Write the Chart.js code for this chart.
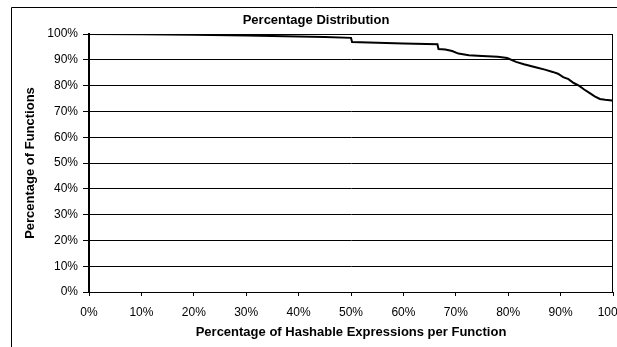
<!DOCTYPE html>
<html>
<head>
<meta charset="utf-8">
<script src="https://cdn.jsdelivr.net/npm/chart.js@4"></script>
<style>
  html, body { margin: 0; padding: 0; background: #fff; }
  #wrap { width: 617px; height: 347px; }
</style>
</head>
<body>
<div id="wrap"><canvas id="c" width="617" height="347"></canvas></div>
<script>
// cumulative share of functions vs share of hashable expressions
const xPct = [0, 10, 20, 30, 40, 45, 50, 50.2, 55, 60, 66.5, 66.7, 68, 69.3, 70.5, 72.5, 75, 78, 79.8,
  81.5, 83, 85.4, 87, 88.5, 89.5, 90.5, 91.5, 92.5, 93.5, 94.5, 95.5, 96.5, 97.5, 98.5, 99.8, 100, 100];
const yPct = [100, 99.9, 99.7, 99.4, 99.0, 98.8, 98.5, 96.9, 96.6, 96.3, 96.0, 94.2, 94.0, 93.4, 92.4, 91.8, 91.5, 91.2, 90.7,
  89.2, 88.3, 87.0, 86.2, 85.3, 84.6, 83.3, 82.5, 81.0, 80.0, 78.5, 77.2, 75.8, 74.8, 74.5, 74.2, 74.0, 0];
const tickLabels = ['0%', '10%', '20%', '30%', '40%', '50%', '60%', '70%', '80%', '90%', '100%'];

const FONT = 'Liberation Sans, Arial, sans-serif';
const tickFont = { family: FONT, size: 12 };
const boldFont = { family: FONT, size: 13, weight: 'bold' };

// outer chart frame + plot-area box, Excel style
const frame = {
  id: 'frame',
  beforeDraw(chart) {
    const { ctx } = chart;
    ctx.save();
    ctx.strokeStyle = '#000';
    ctx.lineWidth = 1;
    ctx.beginPath();
    ctx.moveTo(11.5, 347);
    ctx.lineTo(11.5, 7.5);
    ctx.lineTo(617, 7.5);
    ctx.stroke();
    ctx.restore();
  },
  afterDatasetsDraw(chart) {
    const { ctx, chartArea: a } = chart;
    ctx.save();
    ctx.strokeStyle = '#000';
    ctx.lineWidth = 1;
    ctx.beginPath();
    ctx.moveTo(a.left, Math.round(a.top) + 0.5);
    ctx.lineTo(Math.round(a.right) - 0.5, Math.round(a.top) + 0.5);
    ctx.lineTo(Math.round(a.right) - 0.5, a.bottom);
    ctx.stroke();
    ctx.restore();
  },
};

new Chart(document.getElementById('c'), {
  type: 'line',
  data: {
    datasets: [{
      data: xPct.map((x, i) => ({ x, y: yPct[i] })),
      borderColor: '#000',
      borderWidth: 2,
      pointRadius: 0,
      tension: 0,
    }],
  },
  options: {
    responsive: false,
    animation: false,
    parsing: false,
    layout: { padding: { left: 19, right: 4, top: 0, bottom: 0 } },
    plugins: {
      legend: { display: false },
      tooltip: { enabled: false },
      title: {
        display: true,
        text: 'Percentage Distribution',
        color: '#000',
        font: boldFont,
        padding: { top: 12.2, bottom: 6.2 },
      },
    },
    scales: {
      x: {
        type: 'linear',
        min: 0,
        max: 100,
        afterFit: (s) => { s.height = 55; s.paddingRight = 0; s.paddingLeft = 0; },
        afterBuildTicks: (s) => { s.ticks = tickLabels.map((_, i) => ({ value: i * 10 })); },
        ticks: {
          color: '#000',
          font: tickFont,
          padding: 9,
          maxRotation: 0,
          autoSkip: false,
          callback: (v) => tickLabels[Math.round(v / 10)],
        },
        grid: { drawOnChartArea: false, drawTicks: true, tickLength: 4, color: '#000' },
        border: { color: '#000', width: 1 },
        title: {
          display: true,
          text: 'Percentage of Hashable Expressions per Function',
          color: '#000',
          font: boldFont,
          padding: { top: 0, bottom: 7.2 },
        },
      },
      y: {
        min: 0,
        max: 100,
        afterFit: (s) => { s.width = 70; },
        afterBuildTicks: (s) => { s.ticks = tickLabels.map((_, i) => ({ value: i * 10 })); },
        ticks: {
          color: '#000',
          font: tickFont,
          padding: 5,
          autoSkip: false,
          callback: (v) => tickLabels[Math.round(v / 10)],
        },
        grid: { color: '#000', lineWidth: 1, tickLength: 6 },
        border: { color: '#000', width: 2 },
        title: {
          display: true,
          text: 'Percentage of Functions',
          color: '#000',
          font: boldFont,
          padding: { top: 3.2 },
        },
      },
    },
  },
  plugins: [frame],
});
</script>
</body>
</html>
